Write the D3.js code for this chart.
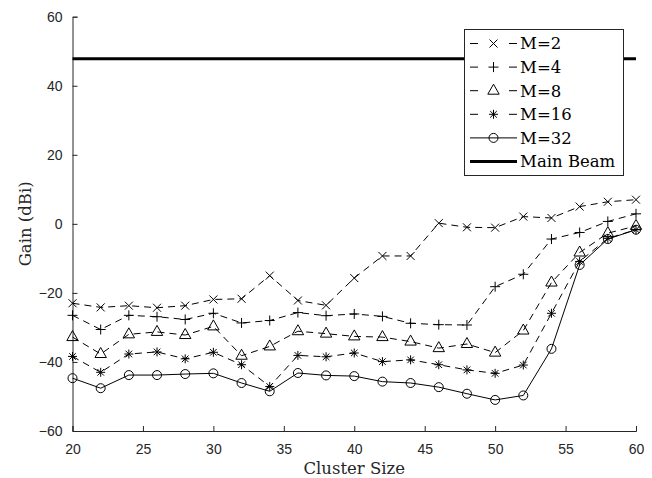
<!DOCTYPE html>
<html>
<head>
<meta charset="utf-8">
<script src="https://cdn.jsdelivr.net/npm/d3@7"></script>
<style>
  body { margin: 0; background: #fff; }
  svg { display: block; }
</style>
</head>
<body>
<svg id="chart" width="652" height="478"></svg>
<script>
// данные
const clusterSizes = [20, 22, 24, 26, 28, 30, 32, 34, 36, 38, 40, 42, 44, 46, 48, 50, 52, 54, 56, 58, 60];
const gainM2  = [-23.0, -24.2, -23.7, -24.3, -23.7, -21.9, -21.7, -15.0, -22.2, -23.6, -15.7, -9.3, -9.3, 0.2, -1.0, -1.1, 2.1, 1.7, 5.0, 6.4, 7.0];
const gainM4  = [-26.5, -30.6, -26.5, -26.9, -27.7, -25.9, -28.7, -28.0, -25.7, -26.6, -26.1, -26.8, -28.8, -29.2, -29.3, -18.2, -14.6, -4.4, -2.5, 0.7, 2.9];
const gainM8  = [-32.8, -37.7, -32.0, -31.3, -32.2, -29.7, -38.2, -35.5, -31.1, -31.8, -32.6, -32.8, -34.1, -36.0, -34.8, -37.3, -30.9, -17.0, -8.3, -2.7, -0.6];
const gainM16 = [-38.4, -43.0, -37.7, -37.1, -39.1, -37.2, -40.8, -47.1, -38.1, -38.5, -37.4, -39.9, -39.4, -40.8, -42.3, -43.3, -40.9, -25.9, -10.9, -4.2, -1.7];
const gainM32 = [-44.7, -47.6, -43.8, -43.8, -43.5, -43.3, -46.1, -48.5, -43.2, -43.9, -44.1, -45.7, -46.1, -47.3, -49.2, -51.0, -49.7, -36.2, -11.9, -4.4, -1.7];
const mainBeam = 47.8;
const xTicks = [20, 25, 30, 35, 40, 45, 50, 55, 60];
const yTicks = [-60, -40, -20, 0, 20, 40, 60];
const legendLabels = ["M=2", "M=4", "M=8", "M=16", "M=32", "Main Beam"];

const svg = d3.select("svg#chart");
const plotLeft = 72.5, plotRight = 636, plotTop = 16.7, plotBottom = 431;

const scaleX = d3.scaleLinear().domain([20, 60]).range([plotLeft, plotRight]);
const scaleY = d3.scaleLinear().domain([-60, 60]).range([plotBottom, plotTop]);

const tickFont = "'Liberation Sans', Arial, sans-serif";
const serifFont = "'DejaVu Serif', serif";

// оси (тики внутрь, как в MATLAB)
const axisX = d3.axisBottom(scaleX).tickValues(xTicks).tickSize(-5).tickPadding(13);
const axisY = d3.axisLeft(scaleY).tickValues(yTicks).tickSize(-5).tickPadding(10);

const gx = svg.append("g").attr("transform", `translate(0, ${plotBottom})`).call(axisX);
const gy = svg.append("g").attr("transform", `translate(${plotLeft}, 0)`).call(axisY);
[gx, gy].forEach(g => {
    g.select(".domain").attr("stroke", "#262626").attr("stroke-width", 1);
    g.selectAll(".tick line").attr("stroke", "#262626");
    g.selectAll(".tick text").attr("font-family", tickFont).attr("font-size", 14).attr("fill", "#262626");
});

svg.append("text")
    .attr("x", (plotLeft + plotRight) / 2).attr("y", 474)
    .attr("text-anchor", "middle")
    .attr("font-family", serifFont).attr("font-size", 16.5).attr("fill", "#262626")
    .text("Cluster Size");
svg.append("text")
    .attr("transform", `translate(31, ${scaleY(0)}) rotate(-90)`)
    .attr("text-anchor", "middle")
    .attr("font-family", serifFont).attr("font-size", 16.5).attr("fill", "#262626")
    .text("Gain (dBi)");

// маркеры
function drawMarker(g, type, cx, cy) {
    const s = 4;
    const path = d => g.append("path").attr("d", d)
        .attr("stroke", "#000").attr("stroke-width", 1).attr("fill", "none");
    if (type === "x") {
        path(`M${cx - s},${cy - s}L${cx + s},${cy + s}M${cx - s},${cy + s}L${cx + s},${cy - s}`);
    } else if (type === "plus") {
        const p = 5;
        path(`M${cx - p},${cy}L${cx + p},${cy}M${cx},${cy - p}L${cx},${cy + p}`);
    } else if (type === "tri") {
        path(`M${cx},${cy - 6.5}L${cx + 5.7},${cy + 3.5}L${cx - 5.7},${cy + 3.5}Z`);
    } else if (type === "star") {
        const p = 4.5, q = 3.3;
        path(`M${cx - p},${cy}L${cx + p},${cy}M${cx},${cy - p}L${cx},${cy + p}` +
             `M${cx - q},${cy - q}L${cx + q},${cy + q}M${cx - q},${cy + q}L${cx + q},${cy - q}`);
    } else if (type === "circle") {
        g.append("circle").attr("cx", cx).attr("cy", cy).attr("r", 4.5)
            .attr("stroke", "#000").attr("stroke-width", 1).attr("fill", "none");
    }
}

const seriesList = [
    { values: gainM2,  marker: "x",      dash: "7,5" },
    { values: gainM4,  marker: "plus",   dash: "7,5" },
    { values: gainM8,  marker: "tri",    dash: "7,5" },
    { values: gainM16, marker: "star",   dash: "7,5" },
    { values: gainM32, marker: "circle", dash: null }
];

const lineF = d3.line()
    .x(d => scaleX(d.x))
    .y(d => scaleY(d.y));

// основной луч
svg.append("path")
    .datum(clusterSizes.map(x => ({ x: x, y: mainBeam })))
    .attr("d", lineF)
    .attr("fill", "none").attr("stroke", "#000").attr("stroke-width", 3);

seriesList.forEach(s => {
    const pts = clusterSizes.map((x, i) => ({ x: x, y: s.values[i] }));
    const g = svg.append("g");
    g.append("path")
        .datum(pts)
        .attr("d", lineF)
        .attr("fill", "none").attr("stroke", "#000").attr("stroke-width", 1)
        .attr("stroke-dasharray", s.dash);
    pts.forEach(p => drawMarker(g, s.marker, scaleX(p.x), scaleY(p.y)));
});

// легенда
const legX = 464.5, legY = 29.5, legW = 159, legH = 146, rowH = 23.6;
const leg = svg.append("g");
leg.append("rect")
    .attr("x", legX).attr("y", legY).attr("width", legW).attr("height", legH)
    .attr("fill", "#fff").attr("stroke", "#262626").attr("stroke-width", 1);

legendLabels.forEach((label, i) => {
    const cy = legY + 14 + i * rowH;
    const row = leg.append("g");
    if (i < seriesList.length) {
        if (seriesList[i].dash) {
            row.append("line")
                .attr("x1", 470).attr("x2", 478).attr("y1", cy).attr("y2", cy)
                .attr("stroke", "#000").attr("stroke-width", 1);
            row.append("line")
                .attr("x1", 509).attr("x2", 517).attr("y1", cy).attr("y2", cy)
                .attr("stroke", "#000").attr("stroke-width", 1);
        } else {
            row.append("line")
                .attr("x1", 470).attr("x2", 517).attr("y1", cy).attr("y2", cy)
                .attr("stroke", "#000").attr("stroke-width", 1);
        }
        drawMarker(row, seriesList[i].marker, 493.5, cy);
    } else {
        row.append("line")
            .attr("x1", 470).attr("x2", 517).attr("y1", cy).attr("y2", cy)
            .attr("stroke", "#000").attr("stroke-width", 3);
    }
    row.append("text")
        .attr("x", 520).attr("y", cy)
        .attr("dy", "0.36em")
        .attr("font-family", serifFont).attr("font-size", 16.5).attr("fill", "#000")
        .text(label);
});
</script>
</body>
</html>
